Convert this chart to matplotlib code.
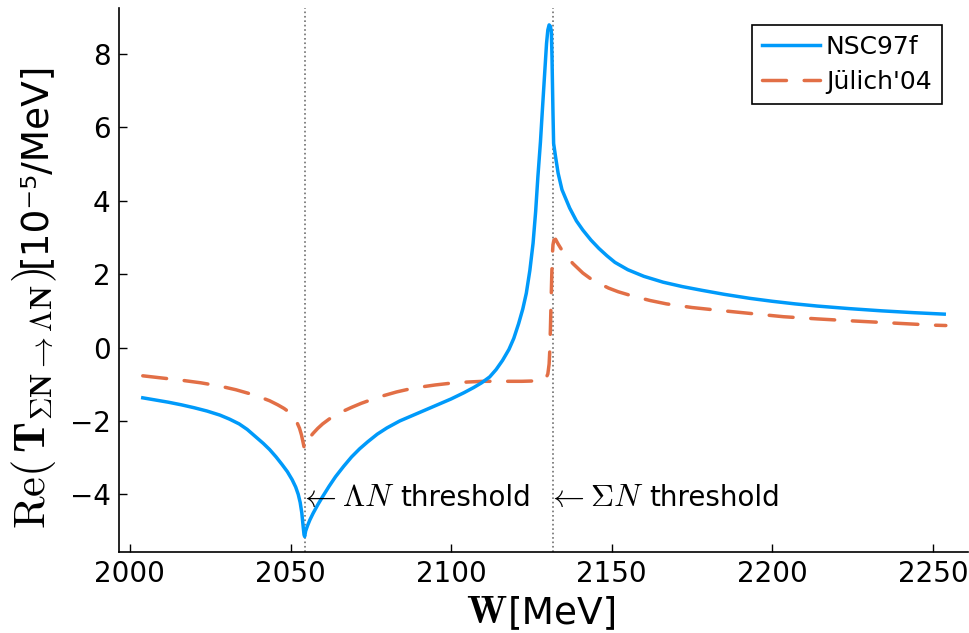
import matplotlib
matplotlib.use("Agg")
import matplotlib.pyplot as plt

# thresholds [MeV]
w_lam = 2054.5
w_sig = 2131.8

# NSC97f
w_nsc = [2004, 2008, 2012, 2016, 2020, 2024, 2028, 2031, 2034, 2036.5,
         2039, 2041.5, 2043.5, 2045.5, 2047.3, 2049, 2050.5, 2051.6, 2052.4, 2053.0,
         2053.5, 2053.9, 2054.2, 2054.4, 2054.7, 2055.3, 2056, 2057, 2058.5, 2060,
         2062, 2064, 2066.5, 2069, 2071.5, 2074, 2077, 2080, 2084, 2088,
         2092, 2096, 2100, 2104, 2107, 2109.5, 2112, 2114, 2116, 2118,
         2119.5, 2121, 2122.3, 2123.4, 2124.5, 2125.5, 2126.3, 2127.0, 2127.8, 2128.4,
         2129.1, 2129.7, 2130.1, 2130.5, 2130.9, 2131.2, 2131.4, 2131.5, 2131.7, 2131.9,
         2132.5, 2133.3, 2134.5, 2136.9, 2139, 2141, 2143.5, 2146, 2148.5, 2151,
         2155, 2160, 2166, 2172, 2178, 2185, 2193, 2200, 2207, 2214,
         2224, 2234, 2244, 2253.5]
re_nsc = [-1.37, -1.43, -1.49, -1.56, -1.64, -1.73, -1.84, -1.95, -2.08, -2.23,
          -2.42, -2.61, -2.78, -2.98, -3.18, -3.38, -3.60, -3.80, -4.00, -4.22,
          -4.50, -4.85, -5.10, -5.15, -5.00, -4.85, -4.70, -4.52, -4.28, -4.06,
          -3.78, -3.52, -3.24, -2.98, -2.76, -2.57, -2.36, -2.19, -2.00, -1.85,
          -1.70, -1.55, -1.40, -1.23, -1.09, -0.96, -0.80, -0.60, -0.35, -0.05,
          0.25, 0.65, 1.05, 1.48, 2.10, 2.84, 3.70, 4.65, 5.60, 6.47,
          7.45, 8.29, 8.65, 8.79, 8.75, 8.60, 7.90, 7.38, 6.40, 5.56,
          5.20, 4.75, 4.30, 3.80, 3.45, 3.20, 2.93, 2.70, 2.50, 2.32,
          2.12, 1.94, 1.78, 1.66, 1.56, 1.45, 1.34, 1.26, 1.19, 1.13,
          1.06, 1.00, 0.95, 0.91]

# Juelich'04
w_jul = [2004, 2010, 2016, 2022, 2028, 2033, 2037, 2040.5, 2043.5, 2046,
         2048, 2049.7, 2051, 2052, 2052.8, 2053.4, 2053.9, 2054.3, 2054.7, 2055.5,
         2057, 2058.5, 2060, 2062, 2064, 2066.5, 2069, 2072, 2075.5, 2079,
         2083, 2087, 2091, 2095, 2100, 2105, 2110, 2116, 2122, 2126,
         2128.5, 2129.5, 2130.1, 2130.5, 2130.7, 2130.9, 2131.1, 2131.3, 2131.5, 2131.7,
         2132.0, 2132.5, 2133.3, 2134.5, 2136, 2138, 2141, 2143.5, 2146, 2149,
         2152, 2156.6, 2162, 2167, 2175, 2182.6, 2193, 2203.4, 2214, 2224,
         2237, 2250, 2254]
re_jul = [-0.77, -0.83, -0.89, -0.96, -1.05, -1.15, -1.25, -1.35, -1.45, -1.56,
          -1.66, -1.77, -1.90, -2.04, -2.20, -2.38, -2.58, -2.75, -2.62, -2.50,
          -2.34, -2.20, -2.08, -1.95, -1.84, -1.73, -1.63, -1.52, -1.41, -1.31,
          -1.21, -1.13, -1.07, -1.02, -0.97, -0.94, -0.92, -0.92, -0.92, -0.91,
          -0.89, -0.84, -0.72, -0.45, -0.10, 0.50, 1.20, 1.90, 2.50, 2.80,
          2.93, 2.95, 2.82, 2.65, 2.47, 2.28, 2.03, 1.87, 1.75, 1.62,
          1.52, 1.40, 1.28, 1.19, 1.09, 1.02, 0.93, 0.84, 0.78, 0.73,
          0.67, 0.61, 0.60]

xticks = [2000, 2050, 2100, 2150, 2200, 2250]
yticks = [-4, -2, 0, 2, 4, 6, 8]

plt.rcParams['mathtext.fontset'] = 'cm'
plt.rcParams['font.family'] = 'DejaVu Sans'

fig = plt.figure(figsize=(9.69, 6.33), dpi=100)
ax = fig.add_axes([119/969, 1-552/633, 849/969, 544/633])

ax.axvline(w_lam, color='#707070', lw=1.2, ls=':', zorder=1)
ax.axvline(w_sig, color='#707070', lw=1.2, ls=':', zorder=1)

ax.plot(w_nsc, re_nsc, color='#009AFA', lw=2.5, label='NSC97f', zorder=3)
ax.plot(w_jul, re_jul, color='#E26F46', lw=2.5, dashes=(6.9, 5.1),
        dash_capstyle='round', label="Jülich'04", zorder=2)

# threshold annotations: math part slightly larger, like the original
for w0, sym in [(w_lam, r'$\leftarrow\Lambda N$'), (w_sig, r'$\leftarrow\Sigma N$')]:
    t = ax.text(w0 - 1.9, -4.33, sym, fontsize=23, ha='left', va='baseline')
    ax.annotate('threshold', xy=(1, -4.33), xycoords=(t, 'data'),
                xytext=(4, 0), textcoords='offset points',
                fontsize=20, ha='left', va='baseline')

ax.set_xlim(1996.6, 2260.9)
ax.set_ylim(-5.57, 9.25)
ax.set_xticks(xticks)
ax.set_yticks(yticks)
ax.tick_params(direction='in', length=6, width=1, labelsize=20, pad=6)

for s in ['top', 'right']:
    ax.spines[s].set_visible(False)
for s in ['left', 'bottom']:
    ax.spines[s].set_linewidth(1.2)

# x label
xl = fig.text(618/969, 1-623/633, '[MeV]', fontsize=27, ha='right', va='baseline')
ax.annotate(r'$\mathbf{W}$', xy=(0, 1-623/633), xycoords=(xl, 'figure fraction'),
            fontsize=28, ha='right', va='baseline', annotation_clip=False)

# y label
yl = fig.text(45/969, 1-62/633, '[10⁻⁵/MeV]', fontsize=27, rotation=90,
              rotation_mode='anchor', ha='right', va='baseline')
ax.annotate(r'$\mathrm{Re}(\,\mathbf{T}_{\mathbf{\Sigma N}\rightarrow\mathbf{\Lambda N}})$',
            xy=(45/969, 0), xycoords=('figure fraction', yl),
            fontsize=32, rotation=90, rotation_mode='anchor',
            ha='right', va='baseline', annotation_clip=False)

leg = ax.legend(loc='upper right', bbox_to_anchor=(0.969, 0.969), borderaxespad=0,
                fontsize=18, frameon=True, fancybox=False, handlelength=2.3,
                handletextpad=0.25, borderpad=0.4, labelspacing=0.45,
                edgecolor='black', framealpha=1)
leg.get_frame().set_linewidth(1.2)

fig.savefig('out.png', dpi=100)
